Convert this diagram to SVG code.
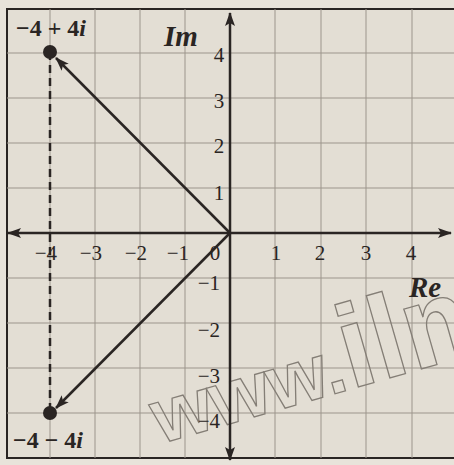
<svg xmlns="http://www.w3.org/2000/svg" width="454" height="465" viewBox="0 0 454 465">
<style>
.grid{stroke:#9c958c;stroke-width:1;fill:none}
.ink{stroke:#2a2523;fill:none}
.t{font-family:"Liberation Serif","Times New Roman",serif;fill:#2a2523}
.lab{font-size:21px}
.big{font-size:24px;font-weight:bold}
.ax{font-size:29px;font-weight:bold;font-style:italic}
.wm{font-family:"Liberation Sans",Arial,sans-serif;font-weight:bold;fill:none;stroke:#847e76;stroke-width:1.3}
</style>
<defs>
<marker id="ah" viewBox="0 0 14 10" refX="13" refY="5" markerWidth="14" markerHeight="10" markerUnits="userSpaceOnUse" orient="auto-start-reverse">
<path d="M0,0 L14,5 L0,10 L3,5 Z" fill="#2a2523"/>
</marker>
</defs>
<rect x="0" y="0" width="454" height="465" fill="#e8e3da"/>
<rect x="7" y="9" width="460" height="449" fill="#e3ded4" stroke="#2a2523" stroke-width="2"/>
<g id="grid" class="grid">
<path d="M50,9V458M95,9V458M140,9V458M185,9V458M275,9V458M321,9V458M366,9V458M412,9V458"/>
<path d="M7,53H454M7,98H454M7,143H454M7,188H454M7,278H454M7,323H454M7,368H454M7,413H454"/>
</g>
<g id="watermark" class="wm" transform="translate(160,444) rotate(-16)">
<text x="0" y="0"><tspan font-size="77">www.</tspan><tspan font-size="118">ilm</tspan></text>
</g>
<g id="connectors" class="ink">
<line id="re-axis" x1="8" y1="233" x2="451" y2="233" stroke-width="2.5" marker-start="url(#ah)" marker-end="url(#ah)"/>
<line id="im-axis" x1="230" y1="460" x2="230" y2="13" stroke-width="2.5" marker-start="url(#ah)" marker-end="url(#ah)"/>
<line id="v1" x1="230" y1="233" x2="56" y2="58" stroke-width="2.5" marker-end="url(#ah)"/>
<line id="v2" x1="230" y1="233" x2="56" y2="408" stroke-width="2.5" marker-end="url(#ah)"/>
<line id="dash" x1="50" y1="52" x2="50" y2="413" stroke-width="2.5" stroke-dasharray="8,5"/>
</g>
<g id="p1">
<circle cx="50" cy="52" r="7" fill="#2a2523"/>
<text class="t big" x="16" y="36">−4 + 4<tspan font-style="italic">i</tspan></text>
</g>
<g id="p2">
<circle cx="50" cy="413" r="7" fill="#2a2523"/>
<text class="t big" x="13" y="448">−4 − 4<tspan font-style="italic">i</tspan></text>
</g>
<g id="im-label"><text class="t ax" x="164" y="46">Im</text></g>
<g id="re-label"><text class="t ax" x="409" y="297">Re</text></g>
<g id="y-ticks" class="t lab" text-anchor="middle">
<text x="219" y="62">4</text>
<text x="219" y="108">3</text>
<text x="219" y="153">2</text>
<text x="219" y="200">1</text>
</g>
<g id="y-neg-ticks" class="t lab" text-anchor="end">
<text x="220" y="290">−1</text>
<text x="220" y="337">−2</text>
<text x="220" y="383">−3</text>
<text x="220" y="428">−4</text>
</g>
<g id="x-ticks" class="t lab">
<text x="57" y="260" text-anchor="end">−4</text>
<text x="102" y="260" text-anchor="end">−3</text>
<text x="147" y="260" text-anchor="end">−2</text>
<text x="189" y="260" text-anchor="end">−1</text>
<text x="215" y="260" text-anchor="middle">0</text>
<text x="276" y="260" text-anchor="middle">1</text>
<text x="320" y="260" text-anchor="middle">2</text>
<text x="366" y="260" text-anchor="middle">3</text>
<text x="411" y="260" text-anchor="middle">4</text>
</g>
</svg>
